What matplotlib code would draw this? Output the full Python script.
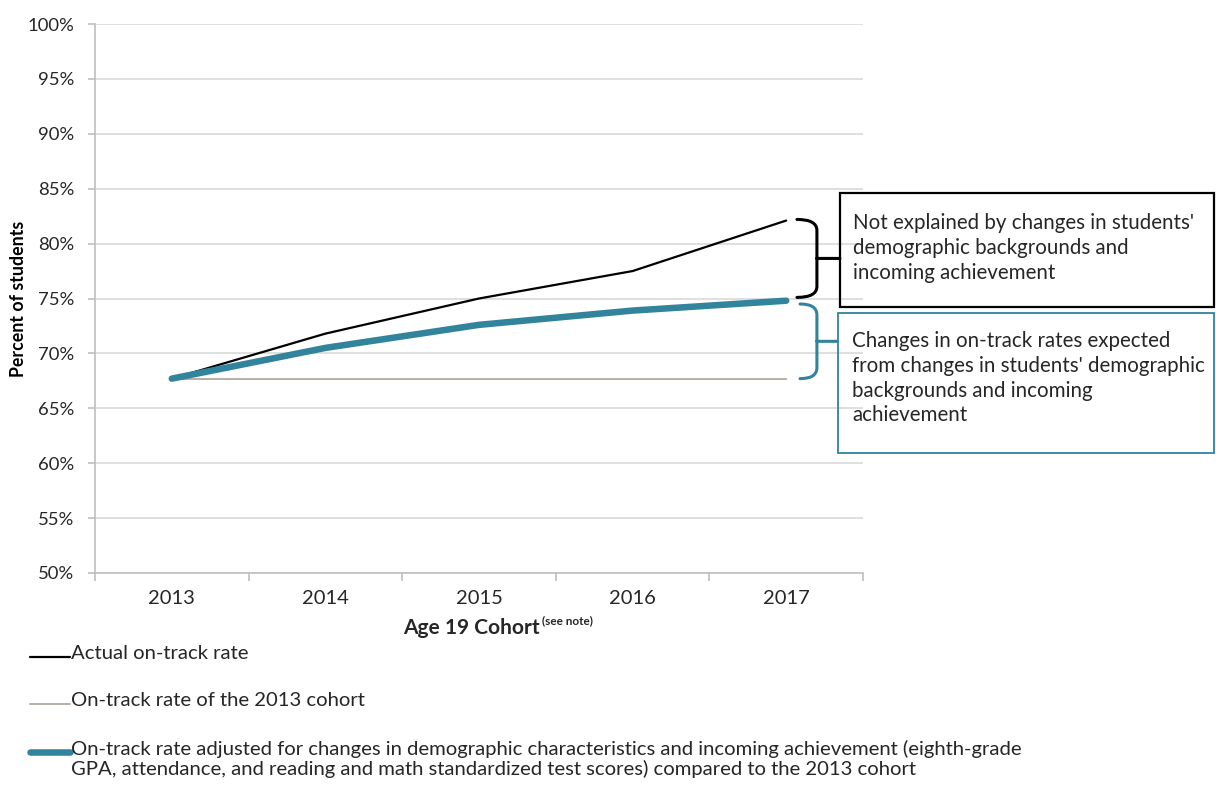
import matplotlib.pyplot as plt
from matplotlib.path import Path
from matplotlib.patches import PathPatch, Rectangle
from matplotlib.lines import Line2D
from matplotlib.ticker import FuncFormatter, FixedLocator

plt.rcParams['font.family'] = ['Lato', 'DejaVu Sans']

years = ['2013', '2014', '2015', '2016', '2017']
actual = [67.7, 71.8, 75.0, 77.5, 82.1]
baseline = [67.7, 67.7, 67.7, 67.7, 67.7]
adjusted = [67.7, 70.5, 72.6, 73.9, 74.8]

legend_labels = [
    'Actual on-track rate',
    'On-track rate of the 2013 cohort',
    'On-track rate adjusted for changes in demographic characteristics and incoming achievement (eighth-grade\n'
    'GPA, attendance, and reading and math standardized test scores) compared to the 2013 cohort',
]
note_black = "Not explained by changes in students'\ndemographic backgrounds and\nincoming achievement"
note_blue = ("Changes in on-track rates expected\nfrom changes in students' demographic\n"
             "backgrounds and incoming\nachievement")

c_black = '#000000'
c_base = '#b3a89f'
c_blue = '#31849b'
c_grid = '#d9d9d9'
c_text = '#262626'

W, H = 1216, 790
fig = plt.figure(figsize=(12.16, 7.9), dpi=100)
ax = fig.add_axes([0.0781, 0.2747, 0.6316, 0.6949])

x = list(range(len(years)))
ax.plot(x, actual, color=c_black, lw=1.6, solid_capstyle='round')
ax.plot(x, baseline, color=c_base, lw=1.3)
ax.plot(x, adjusted, color=c_blue, lw=4.7, solid_capstyle='round')

ax.set_xlim(-0.5, 4.5)
ax.set_ylim(50, 100)
ax.set_yticks(range(50, 101, 5))
ax.yaxis.set_major_formatter(FuncFormatter(lambda v, p: f'{v:.0f}%'))
ax.grid(axis='y', color=c_grid, lw=1.2)
ax.set_axisbelow(True)

ax.set_xticks(x)
ax.set_xticklabels(years, fontsize=14.5)
ax.xaxis.set_minor_locator(FixedLocator([i - 0.5 for i in range(len(years) + 1)]))
ax.tick_params(axis='x', which='major', length=0, pad=12, labelcolor=c_text)
ax.tick_params(axis='x', which='minor', length=6, color='#bfbfbf', width=1.2)
ax.tick_params(axis='y', length=5, color='#bfbfbf', width=1.2, labelsize=13.3,
               labelcolor=c_text, pad=10)

for s in ['top', 'right']:
    ax.spines[s].set_visible(False)
for s in ['left', 'bottom']:
    ax.spines[s].set_color('#bfbfbf')
    ax.spines[s].set_linewidth(1.2)

ax.set_ylabel('Percent of students', fontsize=12.8, fontweight='bold', labelpad=0)

# axis title with the small superscript note
fig.text(403 / W, 1 - 628 / H, 'Age 19 Cohort', fontsize=15, fontweight='bold',
         va='center', ha='left', color=c_text)
fig.text(542 / W, 1 - 621 / H, '(see note)', fontsize=8.5, fontweight='bold',
         va='center', ha='left', color=c_text)


def brace(ax, x0, x1, x2, ytop, ybot, color):
    ymid = (ytop + ybot) / 2
    r = 1.0
    verts = [(x0, ytop), (x1, ytop), (x1, ytop - r),
             (x1, ybot + r), (x1, ybot), (x0, ybot),
             (x1, ymid), (x2, ymid)]
    codes = [Path.MOVETO, Path.CURVE3, Path.CURVE3,
             Path.LINETO, Path.CURVE3, Path.CURVE3,
             Path.MOVETO, Path.LINETO]
    ax.add_patch(PathPatch(Path(verts, codes), fill=False, edgecolor=color,
                           lw=2.2, clip_on=False, capstyle='round'))


last = len(years) - 1
brace(ax, last + 0.07, last + 0.2, last + 0.35, actual[-1] + 0.1, adjusted[-1] + 0.3, c_black)
brace(ax, last + 0.09, last + 0.2, last + 0.33, adjusted[-1] - 0.3, baseline[-1], c_blue)

fig.add_artist(Rectangle((840 / W, 1 - 307 / H), 374 / W, 114 / H, transform=fig.transFigure,
                         fill=False, edgecolor=c_black, lw=1.6))
fig.add_artist(Rectangle((838 / W, 1 - 453 / H), 376 / W, 140 / H, transform=fig.transFigure,
                         fill=False, edgecolor=c_blue, lw=1.3))
fig.text(853 / W, 1 - 213 / H, note_black, fontsize=14.8, va='top', ha='left',
         color=c_text, linespacing=1.3)
fig.text(852 / W, 1 - 331 / H, note_blue, fontsize=14.8, va='top', ha='left',
         color=c_text, linespacing=1.3)

# legend below the chart, drawn by hand so the handle sits on the first text line
leg_y = [657, 704, 752]
leg_style = [(c_black, 1.6), (c_base, 1.3), (c_blue, 4.7)]
for yy, (col, lw), lab in zip(leg_y, leg_style, legend_labels):
    fig.add_artist(Line2D([30 / W, 70 / W], [1 - yy / H, 1 - yy / H], color=col, lw=lw,
                          transform=fig.transFigure, solid_capstyle='round'))
    fig.text(71 / W, 1 - (yy - 12) / H, lab, fontsize=14.6, va='top', ha='left',
             color=c_text, linespacing=1.15)

fig.savefig('out.png', dpi=100)
